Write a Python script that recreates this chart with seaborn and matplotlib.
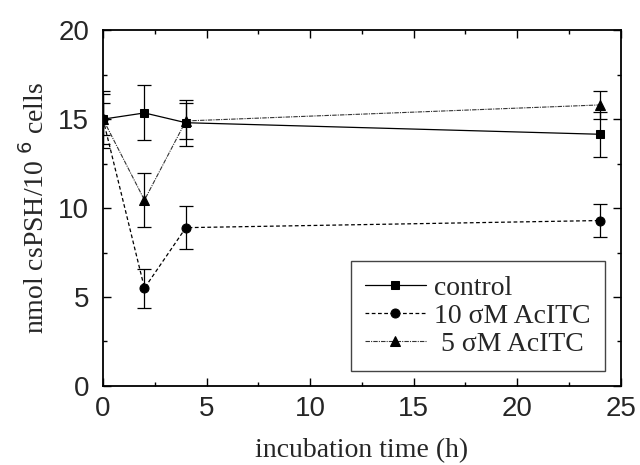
import matplotlib
matplotlib.use('Agg')
import matplotlib.pyplot as plt
from matplotlib.ticker import MultipleLocator
import seaborn as sns
import pandas as pd

# incubation times (h)
times = [0, 2, 4, 24]

# nmol csPSH / 10^6 cells
control_mean = [15.0, 15.35, 14.8, 14.15]
control_err = [0.9, 1.55, 1.3, 1.25]
ac10_mean = [15.0, 5.5, 8.9, 9.3]
ac10_err = [1.6, 1.1, 1.2, 0.95]
ac5_mean = [15.0, 10.45, 14.9, 15.8]
ac5_err = [1.4, 1.5, 1.0, 0.8]

labels = ["control", "10 σM AcITC", " 5 σM AcITC"]

df = pd.concat([
    pd.DataFrame({"time": times, "value": control_mean, "err": control_err, "group": labels[0]}),
    pd.DataFrame({"time": times, "value": ac10_mean, "err": ac10_err, "group": labels[1]}),
    pd.DataFrame({"time": times, "value": ac5_mean, "err": ac5_err, "group": labels[2]}),
])

sns.set_style("ticks")
plt.rcParams['font.family'] = ['Liberation Sans', 'DejaVu Sans']

fig = plt.figure(figsize=(6.4, 4.65), dpi=100)
ax = fig.add_axes([0.161, 0.170, 0.809, 0.765])

styles = {
    labels[0]: dict(ls='-', marker='s', ms=5.5, color='black', lw=0.9),
    labels[1]: dict(ls=(0, (3, 2)), marker='o', ms=6.5, color='black', lw=0.9),
    labels[2]: dict(ls=(0, (4, 1, 1, 1)), marker='^', ms=7.5, color='#333333', lw=0.8),
}

for name, sub in df.groupby("group", sort=False):
    st = styles[name]
    ax.errorbar(sub["time"], sub["value"], yerr=sub["err"], fmt='none',
                ecolor='black', elinewidth=0.9, capsize=5, capthick=0.9, zorder=2)
    sns.lineplot(data=sub, x="time", y="value", ax=ax, label=name,
                 color=st['color'], linestyle=st['ls'], linewidth=st['lw'],
                 marker=st['marker'], markersize=st['ms'],
                 markerfacecolor='black', markeredgecolor='black', zorder=3)

ax.set_xlim(0, 25)
ax.set_ylim(0, 20)
ax.xaxis.set_major_locator(MultipleLocator(5))
ax.xaxis.set_minor_locator(MultipleLocator(2.5))
ax.yaxis.set_major_locator(MultipleLocator(5))
ax.yaxis.set_minor_locator(MultipleLocator(2.5))
ax.tick_params(which='both', direction='in', top=True, right=True,
               width=1.0, color='black')
ax.tick_params(which='major', length=6, labelsize=20, pad=7)
ax.tick_params(axis='y', which='major', pad=10)
ax.tick_params(which='minor', length=3)
for s in ax.spines.values():
    s.set_linewidth(1.3)
    s.set_color('black')

serif = ['Liberation Serif', 'DejaVu Serif']
ax.set_xlabel("incubation time (h)", family=serif, fontsize=20, labelpad=12)
ax.set_ylabel("nmol csPSH/10$^{\\ 6}$ cells", family=serif, fontsize=20, labelpad=6)

leg = ax.legend(loc='lower right', bbox_to_anchor=(0.969, 0.042), borderaxespad=0,
                prop={'family': serif, 'size': 20}, frameon=True, fancybox=False,
                edgecolor='#444444', framealpha=1, handlelength=2.2,
                handletextpad=0.3, labelspacing=0.1, borderpad=0.5)
leg.get_frame().set_linewidth(1.0)

fig.savefig("out.png", dpi=100)
